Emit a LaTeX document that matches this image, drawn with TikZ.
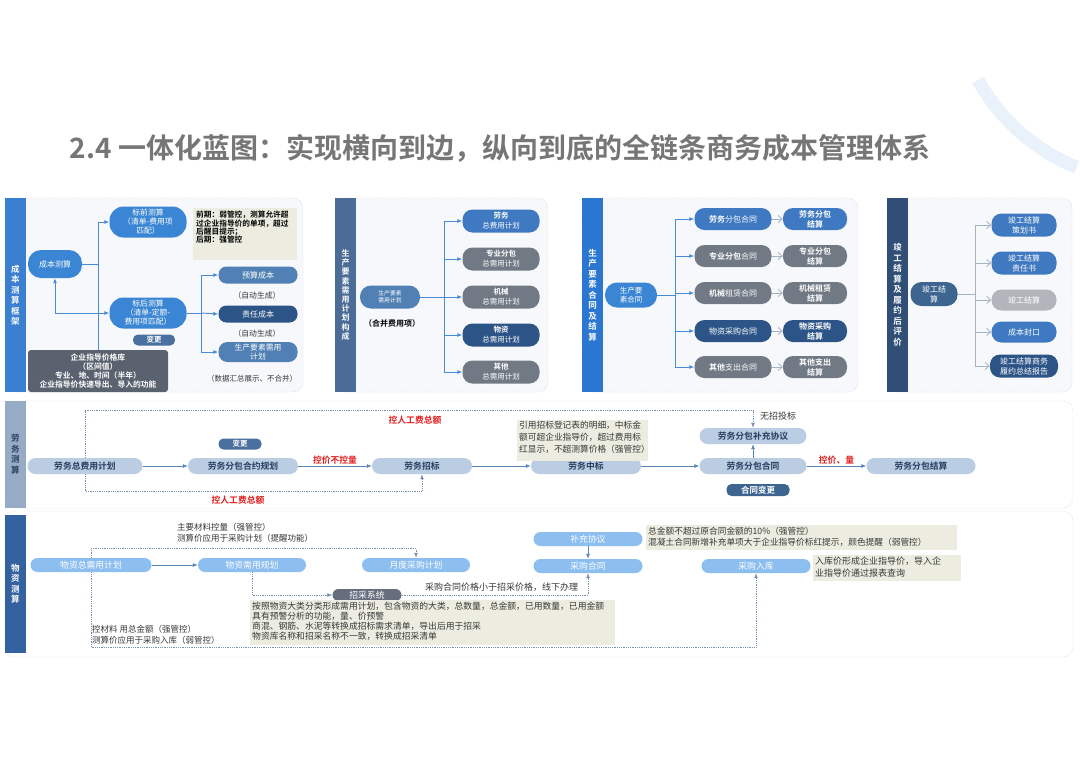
\documentclass[tikz,border=0pt]{standalone}
\usepackage{fontspec}
\setmainfont{Noto Sans CJK SC}[BoldFont={Noto Sans CJK SC Bold}]
\usetikzlibrary{arrows.meta}
\definecolor{ctitle}{RGB}{118,118,118}
\definecolor{cdeco}{RGB}{233,241,251}
\definecolor{cframe}{RGB}{185,190,198}
\definecolor{cpanel}{RGB}{246,248,251}
\definecolor{cbar1}{RGB}{58,127,208}
\definecolor{cbar2}{RGB}{74,108,150}
\definecolor{cbar3}{RGB}{42,118,208}
\definecolor{cbar4}{RGB}{48,78,118}
\definecolor{cbar5}{RGB}{150,172,198}
\definecolor{cbar6}{RGB}{52,98,160}
\definecolor{cblue}{RGB}{59,134,212}
\definecolor{csteel}{RGB}{80,128,180}
\definecolor{cnavy}{RGB}{44,84,135}
\definecolor{cgk}{RGB}{90,98,112}
\definecolor{ctag}{RGB}{74,112,160}
\definecolor{cmid}{RGB}{62,121,193}
\definecolor{cgrey}{RGB}{112,121,132}
\definecolor{clite}{RGB}{178,182,188}
\definecolor{cjg}{RGB}{61,101,144}
\definecolor{cnote}{RGB}{236,237,224}
\definecolor{cline}{RGB}{70,140,215}
\definecolor{cgline}{RGB}{165,178,192}
\definecolor{clab}{RGB}{186,205,226}
\definecolor{clabtext}{RGB}{40,62,95}
\definecolor{clarr}{RGB}{90,135,185}
\definecolor{cdot}{RGB}{120,145,178}
\definecolor{cred}{RGB}{225,30,30}
\definecolor{cmat}{RGB}{140,190,240}
\definecolor{cmatgk}{RGB}{102,110,125}
\definecolor{ctext}{RGB}{55,55,55}
\begin{document}
\begin{tikzpicture}[x=1pt, y=-1pt,
  frame/.style={draw=cframe, densely dotted, fill=cpanel, rounded corners=10pt},
  bar/.style={minimum width=21pt, inner sep=0pt, text=white, align=center, font=\bfseries\fontsize{8.5}{10.5}\selectfont},
  pill/.style={rounded corners=10pt, text=white, align=center, inner sep=0pt, minimum height=22pt, font=\fontsize{8}{10}\selectfont},
  tag/.style={rounded corners=5pt, text=white, inner sep=0pt, minimum height=11pt, font=\bfseries\fontsize{7.5}{8}\selectfont},
  ln/.style={draw=cline, line width=0.9pt},
  arr/.style={draw=cline, line width=0.9pt, -{Latex[length=5pt,width=4pt]}},
  arr2/.style={draw=cline, line width=0.9pt, {Latex[length=5pt,width=4pt]}-{Latex[length=5pt,width=4pt]}},
  garr/.style={draw=cgline, line width=0.8pt, -{Straight Barb[length=4pt,width=7pt]}},
  lpill/.style={fill=clab, rounded corners=8pt, text=clabtext, minimum height=16pt, inner sep=0pt, font=\bfseries\fontsize{8.8}{9}\selectfont},
  larr/.style={draw=clarr, line width=0.8pt, -{Latex[length=5pt,width=4pt]}},
  dot/.style={draw=cdot, densely dotted, line width=0.8pt, -{Latex[length=5pt,width=4pt]}},
  redlab/.style={text=cred, font=\bfseries\fontsize{8.8}{9}\selectfont, inner sep=1pt},
  mpill/.style={fill=cmat, rounded corners=7pt, text=white, minimum height=14pt, inner sep=0pt, font=\fontsize{8.8}{9}\selectfont},
  txt/.style={inner sep=0pt, text=ctext, align=left, font=\fontsize{8.5}{11}\selectfont}]
\fill[white] (0,0) rectangle (1080,764);
\useasboundingbox (0,0) rectangle (1080,764);
\draw[draw=cdeco, line width=13pt] (978,80) arc[start angle=151, end angle=112, radius=197];
\node[font=\bfseries\fontsize{28}{32}\selectfont, text=ctitle] (ttl) at (500,148) {2.4 一体化蓝图：实现横向到边，纵向到底的全链条商务成本管理体系};

\draw[frame] (5,198) rectangle (303,392);
\node[bar, fill=cbar1, minimum height=194pt] (b1) at (15.5,295) {成\\本\\测\\算\\框\\架};
\node[pill, fill=cblue, minimum width=54pt, minimum height=28pt, rounded corners=13pt] (cb) at (55,264) {成本测算};
\node[pill, fill=cblue, minimum width=77pt, minimum height=31pt, rounded corners=14pt, font=\fontsize{7.8}{9}\selectfont] (bq) at (148,222) {标前测算\\（清单-费用项\\匹配）};
\node[pill, fill=cblue, minimum width=77pt, minimum height=31pt, rounded corners=14pt, font=\fontsize{7.8}{9}\selectfont] (bh) at (148,313) {标后测算\\（清单-定额-\\费用项匹配）};
\node[tag, fill=ctag, minimum width=42pt] (bg1) at (154,340) {变更};
\fill[cnote] (193,208) rectangle (297,260);
\node[txt, anchor=north west, text=black, font=\bfseries\fontsize{7.7}{8.3}\selectfont] (n1) at (196,211) {前期：弱管控，测算允许超\\过企业指导价的单项，超过\\后醒目提示；\\后期：强管控};
\node[pill, fill=csteel, minimum width=79pt, minimum height=17pt, rounded corners=8pt] (ys) at (258,275) {预算成本};
\node[txt, font=\fontsize{7.8}{9}\selectfont] (a1) at (257,296) {（自动生成）};
\node[pill, fill=cnavy, minimum width=79pt, minimum height=17pt, rounded corners=8pt] (zr) at (258,314) {责任成本};
\node[txt, font=\fontsize{7.8}{9}\selectfont] (a2) at (257,334) {（自动生成）};
\node[pill, fill=csteel, minimum width=79pt, minimum height=20pt, rounded corners=9pt, font=\fontsize{7.8}{9}\selectfont] (sc) at (258,352) {生产要素需用\\计划};
\node[pill, fill=cgk, minimum width=140pt, minimum height=42pt, rounded corners=3pt, font=\bfseries\fontsize{7.8}{9.3}\selectfont] (gk) at (98,371) {企业指导价格库\\（区间值）\\专业、地、时间（半年）\\企业指导价快速导出、导入的功能};
\node[txt, font=\fontsize{7.5}{9}\selectfont] (s1) at (252,379) {（数据汇总展示、不合并）};
\coordinate (j1) at (98,264);
\coordinate (j2) at (201,313);
\draw[ln] (cb.east) -- (j1);
\draw[arr] (gk.north) |- (bq.west);
\draw[arr2] (cb.south) |- (bh.west);
\draw[ln] (bh.east) -- (j2);
\draw[arr] (j2) |- (ys.west);
\draw[arr] (j2) -- (zr.west);
\draw[arr] (j2) |- (sc.west);

\draw[frame] (335,198) rectangle (548,392);
\node[bar, fill=cbar2, minimum height=194pt, font=\bfseries\fontsize{8}{9.2}\selectfont] (b2) at (345.5,295) {生\\产\\要\\素\\需\\用\\计\\划\\构\\成};
\node[pill, fill=csteel, minimum width=60pt, minimum height=23pt, rounded corners=11pt, font=\fontsize{5.8}{7.5}\selectfont] (sp) at (390,297) {生产要素\\需用计划};
\node[txt, text=black, font=\bfseries\fontsize{8}{9}\selectfont] (hb) at (392,323) {（合并费用项）};
\node[pill, fill=cmid, minimum width=77pt, minimum height=23pt, font=\fontsize{7.5}{10}\selectfont] (p1) at (501,221) {\textbf{劳务}\\总费用计划};
\node[pill, fill=cgrey, minimum width=77pt, minimum height=23pt, font=\fontsize{7.5}{10}\selectfont] (p2) at (501,259) {\textbf{专业分包}\\总需用计划};
\node[pill, fill=cgrey, minimum width=77pt, minimum height=23pt, font=\fontsize{7.5}{10}\selectfont] (p3) at (501,297) {\textbf{机械}\\总需用计划};
\node[pill, fill=cnavy, minimum width=77pt, minimum height=23pt, font=\fontsize{7.5}{10}\selectfont] (p4) at (501,335) {\textbf{物资}\\总需用计划};
\node[pill, fill=cgrey, minimum width=77pt, minimum height=23pt, font=\fontsize{7.5}{10}\selectfont] (p5) at (501,372) {\textbf{其他}\\总需用计划};
\coordinate (j3) at (444,297);
\draw[ln] (sp.east) -- (j3);
\draw[arr] (j3) |- (p1.west);
\draw[arr] (j3) |- (p2.west);
\draw[arr] (j3) -- (p3.west);
\draw[arr] (j3) |- (p4.west);
\draw[arr] (j3) |- (p5.west);

\draw[frame] (582,198) rectangle (858,392);
\node[bar, fill=cbar3, minimum height=194pt] (b3) at (592.5,295) {生\\产\\要\\素\\合\\同\\及\\结\\算};
\node[pill, fill=cblue, minimum width=52pt, minimum height=25pt, rounded corners=12pt, font=\fontsize{7.5}{9.5}\selectfont] (ht) at (631,295) {生产要\\素合同};
\node[pill, fill=cmid, minimum width=77pt] (h1) at (733,219) {\textbf{劳务}分包合同};
\node[pill, fill=cgrey, minimum width=77pt] (h2) at (733,256) {\textbf{专业分包}合同};
\node[pill, fill=cgrey, minimum width=77pt] (h3) at (733,293) {\textbf{机械}租赁合同};
\node[pill, fill=cnavy, minimum width=77pt] (h4) at (733,331) {物资采购合同};
\node[pill, fill=cgrey, minimum width=77pt] (h5) at (733,367) {\textbf{其他}支出合同};
\node[pill, fill=cmid, minimum width=64pt, font=\bfseries\fontsize{8}{10}\selectfont] (g1) at (815,219) {劳务分包\\结算};
\node[pill, fill=cgrey, minimum width=64pt, font=\bfseries\fontsize{8}{10}\selectfont] (g2) at (815,256) {专业分包\\结算};
\node[pill, fill=cgrey, minimum width=64pt, font=\bfseries\fontsize{8}{10}\selectfont] (g3) at (815,293) {机械租赁\\结算};
\node[pill, fill=cnavy, minimum width=64pt, font=\bfseries\fontsize{8}{10}\selectfont] (g4) at (815,331) {物资采购\\结算};
\node[pill, fill=cgrey, minimum width=64pt, font=\bfseries\fontsize{8}{10}\selectfont] (g5) at (815,367) {其他支出\\结算};
\coordinate (j4) at (675,295);
\draw[ln] (ht.east) -- (j4);
\draw[arr] (j4) |- (h1.west);
\draw[arr] (j4) |- (h2.west);
\draw[arr] (j4) |- (h3.west);
\draw[arr] (j4) |- (h4.west);
\draw[arr] (j4) |- (h5.west);
\draw[garr] (h1) -- (g1);
\draw[garr] (h2) -- (g2);
\draw[garr] (h3) -- (g3);
\draw[garr] (h4) -- (g4);
\draw[garr] (h5) -- (g5);

\draw[frame] (887,198) rectangle (1072,392);
\node[bar, fill=cbar4, minimum height=194pt] (b4) at (897.5,295) {竣\\工\\结\\算\\及\\履\\约\\后\\评\\价};
\node[pill, fill=cjg, minimum width=47pt, minimum height=24pt, rounded corners=11pt] (jg) at (934,294) {竣工结\\算};
\node[pill, fill=cmid, minimum width=65pt, minimum height=23pt] (k1) at (1024,225) {竣工结算\\策划书};
\node[pill, fill=cmid, minimum width=65pt, minimum height=23pt] (k2) at (1024,263) {竣工结算\\责任书};
\node[pill, fill=clite, minimum width=65pt, minimum height=21pt] (k3) at (1024,300) {竣工结算};
\node[pill, fill=cmid, minimum width=65pt, minimum height=21pt] (k4) at (1024,332) {成本封口};
\node[pill, fill=cnavy, minimum width=68pt, minimum height=23pt] (k5) at (1024,366) {竣工结算商务\\履约总结报告};
\coordinate (j5) at (975,294);
\draw[draw=cgline, line width=0.8pt] (jg.east) -- (j5);
\draw[garr] (j5) |- (k1.west);
\draw[garr] (j5) |- (k2.west);
\draw[garr] (j5) |- (k3.west);
\draw[garr] (j5) |- (k4.west);
\draw[garr] (j5) |- (k5.west);

\draw[frame, fill=white] (5,401) rectangle (1073,508);
\node[bar, fill=cbar5, text=clabtext, minimum height=107pt] (b5) at (15.5,454.5) {劳\\务\\测\\算};
\node[lpill, minimum width=115pt] (l1) at (85,466) {劳务总费用计划};
\node[lpill, minimum width=110pt] (l2) at (243,466) {劳务分包合约规划};
\node[lpill, minimum width=100pt] (l3) at (422,466) {劳务招标};
\node[lpill, minimum width=110pt] (l4) at (586,466) {劳务中标};
\node[lpill, minimum width=107pt] (l5) at (753,466) {劳务分包合同};
\node[lpill, minimum width=109pt] (l6) at (921,466) {劳务分包结算};
\node[lpill, minimum width=107pt] (l7) at (753,436) {劳务分包补充协议};
\node[tag, fill=ctag, minimum width=43pt] (bg2) at (240,444) {变更};
\node[tag, fill=cjg, minimum width=63pt, minimum height=12pt, font=\bfseries\fontsize{8.5}{9}\selectfont] (bg3) at (758,490) {合同变更};
\fill[cnote] (517,420) rectangle (648,461);
\node[txt, anchor=north west, font=\fontsize{8.7}{12}\selectfont] (n2) at (519,421) {引用招标登记表的明细，中标金\\额可超企业指导价，超过费用标\\红显示，不超测算价格（强管控）};
\node[txt, font=\fontsize{9}{10}\selectfont] (w1) at (778,416) {无招投标};
\draw[larr] (l1) -- (l2);
\draw[larr] (l2) -- (l3) node[midway, above, redlab] {控价不控量};
\draw[larr] (l3) -- (l4);
\draw[larr] (l4) -- (l5);
\draw[larr] (l5) -- (l6) node[midway, above, redlab] {控价、量};
\draw[larr] (l5) -- (l7);
\draw[dot] (l1.north) -- ++(0,-47) -| (l7.north);
\draw[dot] (l1.south) -- ++(0,17) -| (l3.south);
\node[redlab] (r1) at (415,420) {控人工费总额};
\node[redlab] (r2) at (238,500) {控人工费总额};

\draw[frame, fill=white] (5,511) rectangle (1073,657);
\node[bar, fill=cbar6, minimum height=138pt] (b6) at (15.5,584) {物\\资\\测\\算};
\node[mpill, minimum width=121pt] (m1) at (91,565) {物资总需用计划};
\node[mpill, minimum width=108pt] (m2) at (252,565) {物资需用规划};
\node[mpill, minimum width=108pt] (m3) at (416,565) {月度采购计划};
\node[mpill, fill=cmatgk, minimum width=69pt, minimum height=12pt, rounded corners=6pt] (m4) at (367,595) {招采系统};
\node[mpill, minimum width=109pt] (m5) at (588,539) {补充协议};
\node[mpill, minimum width=109pt] (m6) at (588,566) {采购合同};
\node[mpill, minimum width=109pt] (m7) at (756,566) {采购入库};
\node[txt, anchor=north west] (t1) at (177,523) {主要材料控量（强管控）\\测算价应用于采购计划（提醒功能）};
\node[txt, anchor=north west] (t2) at (92,625) {控材料 用总金额（强管控）\\测算价应用于采购入库（弱管控）};
\fill[cnote] (250,600) rectangle (615,645);
\node[txt, anchor=north west, font=\fontsize{8.8}{10}\selectfont] (n3) at (252,602) {按照物资大类分类形成需用计划，包含物资的大类，总数量，总金额，已用数量，已用金额\\具有预警分析的功能，量、价预警\\商混、钢筋、水泥等转换成招标需求清单，导出后用于招采\\物资库名称和招采名称不一致，转换成招采清单};
\node[txt, anchor=west, font=\fontsize{9}{10}\selectfont] (t3) at (425,587) {采购合同价格小于招采价格，线下办理};
\fill[cnote] (646,525) rectangle (957,550);
\node[txt, anchor=north west, font=\fontsize{8.7}{11}\selectfont] (n4) at (648,527) {总金额不超过原合同金额的10\%（强管控）\\混凝土合同新增补充单项大于企业指导价标红提示，颜色提醒（弱管控）};
\fill[cnote] (813,555) rectangle (961,581);
\node[txt, anchor=north west, font=\fontsize{9}{12}\selectfont] (n5) at (815,557) {入库价形成企业指导价，导入企\\业指导价通过报表查询};
\draw[larr] (m1) -- (m2);
\draw[dot] (m1.north) -- ++(0,-9) -| (m3.north);
\draw[dot] (m1.south) -- ++(0,75) -| (m7.south);
\draw[dot] (m2.south) |- (m4.west);
\draw[dot] (m4.east) -| (m6.south);
\draw[larr] (m5) -- (m6);
\end{tikzpicture}
\end{document}
